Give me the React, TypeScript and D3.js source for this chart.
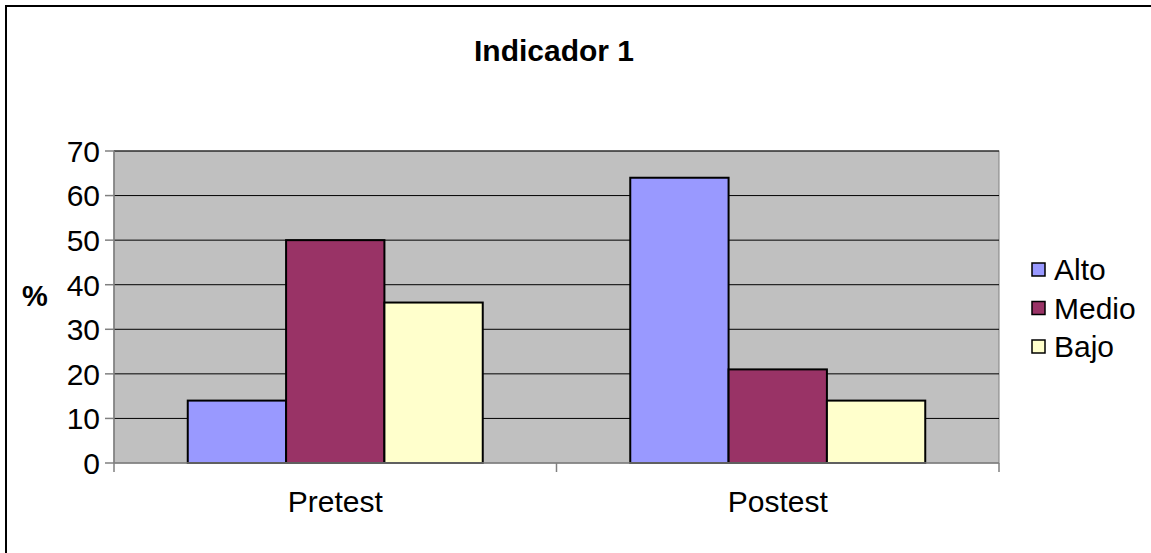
import * as d3 from 'd3';

const categories = ['Pretest', 'Postest'];
const seriesNames = ['Alto', 'Medio', 'Bajo'];
const altoValues = [14, 64];
const medioValues = [50, 21];
const bajoValues = [36, 14];
const yTicks = [0, 10, 20, 30, 40, 50, 60, 70];
const seriesColors = ['#9999FF', '#993366', '#FFFFCC'];

const W = 1151;
const H = 553;
const plot = { left: 114, right: 999, top: 151, bottom: 463 };
const font = 'Arial, "Liberation Sans", sans-serif';

export default function App() {
  const series = [altoValues, medioValues, bajoValues];

  const x0 = d3.scaleBand<string>()
    .domain(categories)
    .range([plot.left, plot.right]);

  // Excel gap width 150% -> group takes 3/(3+1.5) of the band
  const groupW = (x0.bandwidth() * 3) / 4.5;
  const x1 = d3.scaleBand<string>()
    .domain(seriesNames)
    .range([0, groupW]);

  const y = d3.scaleLinear().domain([0, 70]).range([plot.bottom, plot.top]);

  return (
    <div style={{ position: 'absolute', left: 0, top: 0 }}>
      <svg width={W} height={H} style={{ display: 'block', background: '#fff' }}>
        <rect x={6} y={6} width={W + 20} height={H + 20} fill="none" stroke="#000" strokeWidth={2} />

        <text x={554} y={61} textAnchor="middle" fontFamily={font} fontWeight="bold" fontSize={30}>
          Indicador 1
        </text>

        {/* plot area */}
        <rect x={plot.left} y={plot.top} width={plot.right - plot.left} height={plot.bottom - plot.top}
          fill="#C0C0C0" stroke="#808080" strokeWidth={1} />

        {yTicks.filter(t => t > 0).map(t => (
          <line key={t} x1={plot.left} x2={plot.right} y1={y(t)} y2={y(t)} stroke="#000" strokeWidth={1} />
        ))}

        {/* y axis */}
        <line x1={plot.left} x2={plot.left} y1={plot.top} y2={plot.bottom} stroke="#808080" strokeWidth={1.5} />
        {yTicks.map(t => (
          <g key={t}>
            <line x1={plot.left - 9} x2={plot.left} y1={y(t)} y2={y(t)} stroke="#808080" strokeWidth={1.5} />
            <text x={100} y={y(t)} dy="0.36em" textAnchor="end" fontFamily={font} fontSize={30}>{t}</text>
          </g>
        ))}

        <text x={35} y={296} dy="0.36em" textAnchor="middle" fontFamily={font} fontWeight="bold" fontSize={29}>%</text>

        {/* bars */}
        {categories.map((c, ci) => {
          const gx = (x0(c) as number) + (x0.bandwidth() - groupW) / 2;
          return (
            <g key={c}>
              {seriesNames.map((s, si) => (
                <rect key={s}
                  x={gx + (x1(s) as number)}
                  y={y(series[si][ci])}
                  width={x1.bandwidth()}
                  height={plot.bottom - y(series[si][ci])}
                  fill={seriesColors[si]} stroke="#000" strokeWidth={2} />
              ))}
            </g>
          );
        })}

        {/* x axis */}
        <line x1={plot.left} x2={plot.right} y1={plot.bottom} y2={plot.bottom} stroke="#808080" strokeWidth={1.5} />
        {[plot.left, ...categories.map(c => (x0(c) as number) + x0.bandwidth())].map((xv, i) => (
          <line key={i} x1={xv} x2={xv} y1={plot.bottom} y2={plot.bottom + 9} stroke="#808080" strokeWidth={1.5} />
        ))}
        {categories.map(c => (
          <text key={c} x={(x0(c) as number) + x0.bandwidth() / 2} y={512} textAnchor="middle"
            fontFamily={font} fontSize={30}>{c}</text>
        ))}

        {/* legend */}
        {seriesNames.map((s, i) => {
          const cy = 269.5 + i * 38.5;
          return (
            <g key={s}>
              <rect x={1032} y={cy - 6.5} width={13} height={13} fill={seriesColors[i]} stroke="#000" strokeWidth={1.5} />
              <text x={1054} y={cy} dy="0.36em" fontFamily={font} fontSize={30}>{s}</text>
            </g>
          );
        })}
      </svg>
    </div>
  );
}
